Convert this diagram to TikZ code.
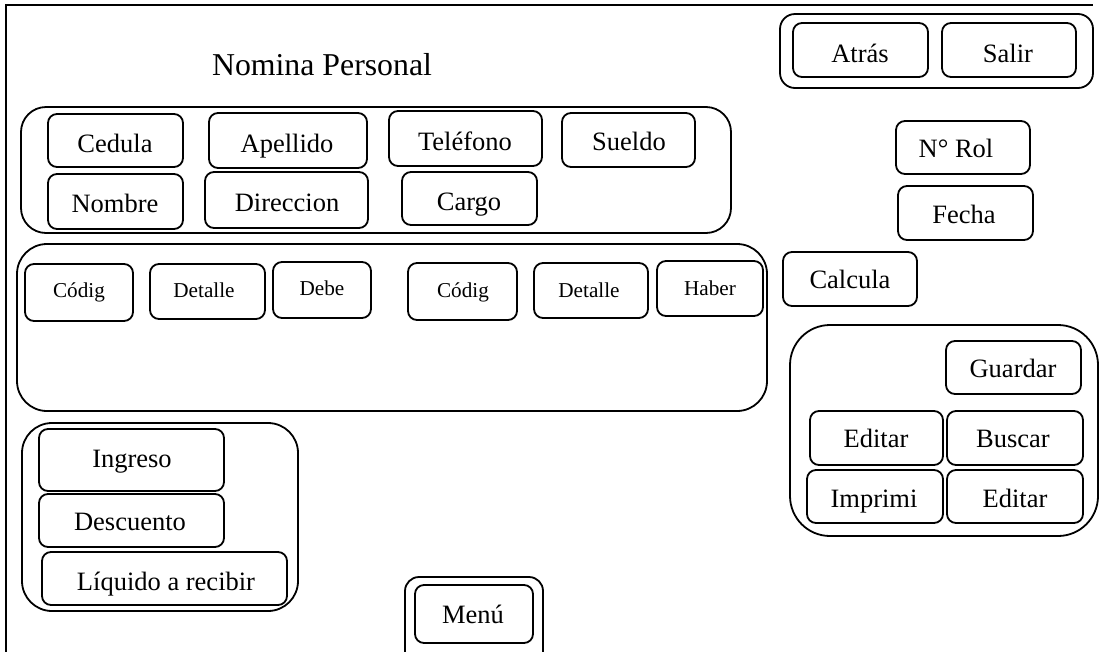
\documentclass[tikz,border=0pt]{standalone}
\usepackage{fontspec}
\setmainfont{Liberation Serif}
\tikzset{
  btn/.style={draw, line width=1.8pt, rounded corners=9pt, inner sep=0pt},
  grp/.style={draw, line width=1.8pt, rounded corners=#1, inner sep=0pt},
  grp/.default=28pt,
  lbl/.style={anchor=base, inner sep=0pt, font=\fontsize{26.5}{32}\selectfont},
  sml/.style={anchor=base, inner sep=0pt, font=\fontsize{21.2}{25}\selectfont},
  ttl/.style={anchor=base, inner sep=0pt, font=\fontsize{31.8}{38}\selectfont},
  frame/.style={line width=1.8pt},
}
\newcommand\mkbox[6][btn]{\node[#1, minimum width={(#5-#3)*1pt}, minimum height={(#6-#4)*1pt}] (#2) at ({(#3+#5)/2},{(#4+#6)/2}) {};}
\begin{document}
\begin{tikzpicture}[x=1pt,y=-1pt]
\useasboundingbox (0,0) rectangle (1099,651);
% outer frame
\coordinate (fbl) at (6,655);
\coordinate (ftl) at (6,5);
\coordinate (ftr) at (1093,5);
\draw[frame] (fbl) -- (ftl) -- (ftr);
% title
\node[ttl] (title) at (322,75) {Nomina Personal};
% personal data group
\mkbox[grp=25pt]{g1}{21}{107}{731}{233}
\mkbox{ced}{48}{114}{183}{167}      \node[lbl] (ced-t) at (115,152) {Cedula};
\mkbox{nom}{48}{174}{183}{229}      \node[lbl] (nom-t) at (115,212) {Nombre};
\mkbox{ape}{209}{113}{367}{168}     \node[lbl] (ape-t) at (287,152) {Apellido};
\mkbox{dir}{205}{172}{368}{228}     \node[lbl] (dir-t) at (287,211) {Direccion};
\mkbox{tel}{389}{111}{542}{166}     \node[lbl] (tel-t) at (465,150) {Teléfono};
\mkbox{sue}{562}{113}{695}{167}     \node[lbl] (sue-t) at (629,150) {Sueldo};
\mkbox{car}{402}{172}{537}{225}     \node[lbl] (car-t) at (469,210) {Cargo};
% table group
\mkbox[grp=30pt]{g2}{17}{244}{767}{411}
\mkbox{c1}{25}{264}{133}{321}       \node[sml] (c1-t) at (79,297) {Códig};
\mkbox{d1}{150}{264}{265}{319}      \node[sml] (d1-t) at (204,297) {Detalle};
\mkbox{deb}{273}{262}{371}{318}     \node[sml] (deb-t) at (322,295) {Debe};
\mkbox{c2}{408}{263}{517}{320}      \node[sml] (c2-t) at (463,297) {Códig};
\mkbox{d2}{534}{263}{648}{318}      \node[sml] (d2-t) at (589,297) {Detalle};
\mkbox{hab}{657}{261}{763}{316}     \node[sml] (hab-t) at (710,295) {Haber};
% bottom-left group
\mkbox[grp=30pt]{g3}{22}{423}{298}{611}
\mkbox{ing}{39}{429}{224}{491}      \node[lbl] (ing-t) at (132,467) {Ingreso};
\mkbox{des}{39}{494}{224}{547}      \node[lbl] (des-t) at (130,530) {Descuento};
\mkbox{liq}{42}{552}{287}{605}      \node[lbl] (liq-t) at (166,590) {Líquido a recibir};
% menu
\mkbox[grp=14pt]{menuo}{405}{577}{543}{665}
\mkbox{menu}{415}{585}{533}{643}    \node[lbl] (menu-t) at (473,623) {Menú};
% top-right
\mkbox[grp=15pt]{nav}{780}{14}{1093}{88}
\mkbox{atr}{793}{23}{928}{77}       \node[lbl] (atr-t) at (860,62) {Atrás};
\mkbox{sal}{942}{23}{1076}{77}      \node[lbl] (sal-t) at (1008,62) {Salir};
\mkbox{rol}{896}{121}{1030}{174}    \node[lbl] (rol-t) at (956,157) {N° Rol};
\mkbox{fec}{898}{186}{1033}{240}    \node[lbl] (fec-t) at (964,223) {Fecha};
\mkbox{cal}{783}{252}{917}{306}     \node[lbl] (cal-t) at (850,288) {Calcula};
% right panel
\mkbox[grp=40pt]{g4}{790}{325}{1098}{536}
\mkbox{gua}{946}{341}{1081}{394}    \node[lbl] (gua-t) at (1013,377) {Guardar};
\mkbox{ed1}{810}{411}{943}{465}     \node[lbl] (ed1-t) at (876,447) {Editar};
\mkbox{bus}{947}{411}{1083}{465}    \node[lbl] (bus-t) at (1013,447) {Buscar};
\mkbox{imp}{807}{470}{943}{523}     \node[lbl] (imp-t) at (874,507) {Imprimi};
\mkbox{ed2}{947}{470}{1083}{523}    \node[lbl] (ed2-t) at (1015,507) {Editar};
\end{tikzpicture}
\end{document}
